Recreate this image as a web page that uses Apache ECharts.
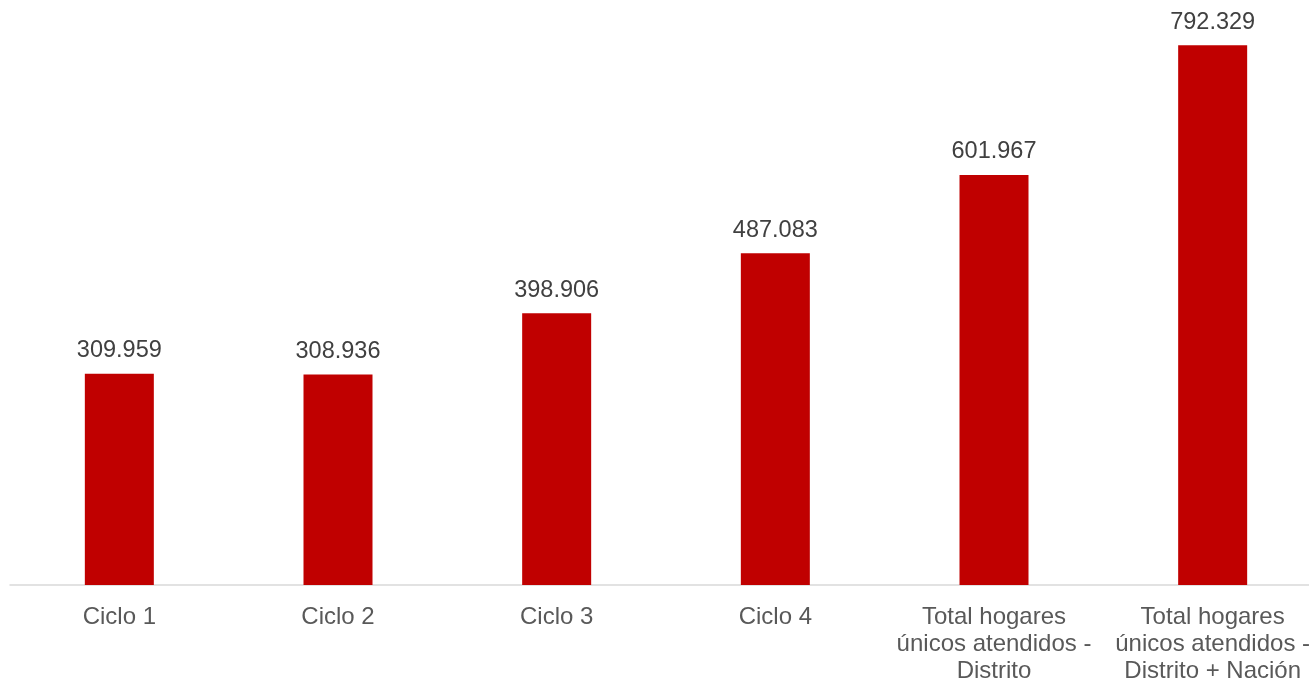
<!DOCTYPE html>
<html>
<head>
<meta charset="utf-8">
<script src="https://cdn.jsdelivr.net/npm/echarts@6/dist/echarts.min.js"></script>
<style>
html,body{margin:0;padding:0;background:#fff;}
#chart{width:1309px;height:682px;}
</style>
</head>
<body>
<div id="chart"></div>
<script>
const categories = [
  'Ciclo 1',
  'Ciclo 2',
  'Ciclo 3',
  'Ciclo 4',
  'Total hogares\núnicos atendidos -\nDistrito',
  'Total hogares\núnicos atendidos -\nDistrito + Nación'
];
const values = [309959, 308936, 398906, 487083, 601967, 792329];

function fmt(v) {
  return String(v).replace(/\B(?=(\d{3})+(?!\d))/g, '.');
}

const chart = echarts.init(document.getElementById('chart'));
chart.setOption({
  animation: false,
  grid: { left: 10, right: -13, top: 40, bottom: 97, containLabel: false, outerBoundsMode: 'none' },
  xAxis: {
    type: 'category',
    data: categories,
    axisLine: { lineStyle: { color: '#d9d9d9', width: 1.5 } },
    axisTick: { show: false },
    axisLabel: {
      color: '#595959',
      fontFamily: 'Liberation Sans, Arial, sans-serif',
      fontSize: 24,
      lineHeight: 27,
      margin: 19,
      interval: 0
    }
  },
  yAxis: {
    type: 'value',
    min: 0,
    max: 800000,
    show: false,
    splitLine: { show: false }
  },
  series: [{
    type: 'bar',
    data: values,
    barWidth: 69,
    itemStyle: { color: '#C00000' },
    label: {
      show: true,
      position: 'top',
      distance: 11,
      color: '#404040',
      fontFamily: 'Liberation Sans, Arial, sans-serif',
      fontSize: 23.5,
      formatter: p => fmt(p.value)
    }
  }]
});
</script>
</body>
</html>
